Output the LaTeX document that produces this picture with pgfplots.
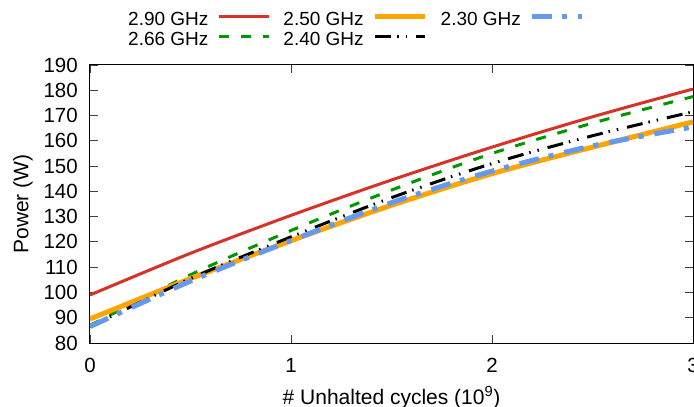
\documentclass[border=0pt]{standalone}
\usepackage{pgfplots}
\pgfplotsset{compat=1.18}
\usepackage{fontspec}
\setmainfont{Liberation Sans}
\definecolor{cred}{RGB}{214,50,40}
\definecolor{corange}{RGB}{255,165,0}
\definecolor{cgreen}{RGB}{0,150,0}
\definecolor{cblue}{RGB}{102,153,238}
\begin{document}
\begin{tikzpicture}
\begin{axis}[
  scale only axis, width=603bp, height=278bp,
  at={(0,0)}, anchor=south west,
  font=\fontsize{20.5bp}{24bp}\selectfont,
  /pgf/number format/assume math mode=true,
  xmin=0, xmax=3, ymin=80, ymax=190,
  xtick={0,1,2,3}, ytick={80,90,...,190},
  tick align=inside, major tick length=8bp,
  tick style={line width=0.9bp, black!75},
  axis line style={line width=1bp, black},
  xticklabel style={anchor=north, inner sep=0pt, yshift=-15bp},
  yticklabel style={anchor=east, inner sep=0pt, xshift=-12bp},
  every axis x label/.style={at={(axis description cs:0.5,0)}, anchor=base, yshift=-61bp, font=\fontsize{21bp}{24bp}\selectfont},
  every axis y label/.style={at={(axis description cs:0,0.5)}, xshift=-67bp, rotate=90, anchor=center, font=\fontsize{21bp}{24bp}\selectfont},
  xlabel={\# Unhalted cycles (10\textsuperscript{9})},
  ylabel={Power (W)},
  legend plot pos=right,
  legend columns=3,
  legend style={at={(0.063,1.1917)}, anchor=north west, draw=none, fill=none,
    inner sep=0pt, row sep=6.4bp, column sep=0pt,
    nodes={inner sep=0pt, text height=13.6bp, text depth=0pt, font=\fontsize{19bp}{22bp}\selectfont},
    /tikz/every even column/.append style={column sep=13bp}},
  legend image code/.code={\path (0bp,0bp); \draw[#1] (9bp,2bp) -- (59bp,2bp);},
  line cap=butt,
]
% 2.90 GHz
\addplot[cred, line width=3bp, smooth, forget plot] coordinates {
 (0,99) (0.5,115.5) (1,130.5) (1.5,144.5) (2,157.5) (2.5,169.5) (3,180.5)};
% 2.66 GHz
\addplot[cgreen, line width=3bp, dash pattern=on 10bp off 12bp, smooth, forget plot] coordinates {
 (0,87) (0.5,107) (1,124.5) (1.5,140.5) (2,155) (2.5,167) (3,177.5)};
% 2.50 GHz
\addplot[corange, line width=5bp, smooth, forget plot] coordinates {
 (0,89.5) (0.5,105.5) (1,120.5) (1.5,134.5) (2,147) (2.5,157.5) (3,167.5)};
% 2.40 GHz
\addplot[black, line width=3bp, dash pattern=on 16bp off 6bp on 1.5bp off 7bp on 1.5bp off 9bp, smooth, forget plot] coordinates {
 (0,86.5) (0.5,105.5) (1,122) (1.5,137.5) (2,151) (2.5,162) (3,171.5)};
% 2.30 GHz
\addplot[cblue, line width=5bp, dash pattern=on 20bp off 10bp on 5bp off 11bp, smooth, forget plot] coordinates {
 (0,86.5) (0.5,104.5) (1,120.5) (1.5,135.5) (2,148) (2.5,158) (3,165.5)};
\addlegendimage{cred, line width=3bp}
\addlegendentry{2.90 GHz}
\addlegendimage{corange, line width=5bp}
\addlegendentry{2.50 GHz}
\addlegendimage{cblue, line width=5bp, dash pattern=on 20bp off 10bp on 5bp off 11bp}
\addlegendentry{2.30 GHz}
\addlegendimage{cgreen, line width=3bp, dash pattern=on 10bp off 12bp}
\addlegendentry{2.66 GHz}
\addlegendimage{black, line width=3bp, dash pattern=on 16bp off 6bp on 1.5bp off 7bp on 1.5bp off 9bp}
\addlegendentry{2.40 GHz}
\end{axis}
\pgfresetboundingbox
\path (-90bp,-64bp) rectangle (604bp,343bp);
\end{tikzpicture}
\end{document}
